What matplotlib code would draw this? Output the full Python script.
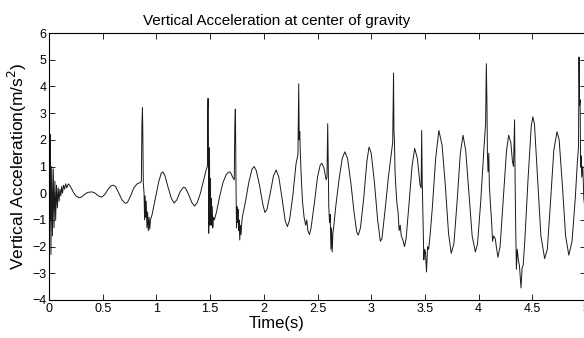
import matplotlib.pyplot as plt

# time (s) and vertical acceleration (m/s^2)
t = [0.000, 0.003, 0.008, 0.012, 0.018, 0.025, 0.032, 0.040, 0.047, 0.055,
     0.062, 0.070, 0.078, 0.086, 0.094, 0.102, 0.110, 0.118, 0.126, 0.135,
     0.145, 0.155, 0.165, 0.180, 0.200, 0.225, 0.250, 0.280, 0.300, 0.330,
     0.360, 0.400, 0.430, 0.460, 0.490, 0.520, 0.550, 0.580, 0.600, 0.620,
     0.650, 0.680, 0.710, 0.730, 0.760, 0.790, 0.820, 0.850, 0.860, 0.865,
     0.870, 0.873, 0.878, 0.885, 0.890, 0.895, 0.900, 0.905, 0.912, 0.918,
     0.925, 0.932, 0.938, 0.945, 0.960, 0.990, 1.020, 1.045, 1.060, 1.080,
     1.110, 1.140, 1.165, 1.190, 1.220, 1.250, 1.270, 1.300, 1.330, 1.355,
     1.380, 1.410, 1.440, 1.465, 1.475, 1.478, 1.481, 1.484, 1.487, 1.490,
     1.494, 1.497, 1.500, 1.503, 1.507, 1.511, 1.515, 1.520, 1.525, 1.530,
     1.540, 1.560, 1.590, 1.620, 1.650, 1.675, 1.690, 1.710, 1.725, 1.730,
     1.735, 1.738, 1.742, 1.746, 1.750, 1.755, 1.760, 1.765, 1.770, 1.776,
     1.782, 1.788, 1.795, 1.800, 1.830, 1.860, 1.890, 1.910, 1.930, 1.960,
     1.990, 2.010, 2.030, 2.060, 2.090, 2.115, 2.140, 2.170, 2.200, 2.220,
     2.240, 2.270, 2.300, 2.318, 2.325, 2.330, 2.335, 2.340, 2.350, 2.360,
     2.375, 2.390, 2.400, 2.410, 2.425, 2.440, 2.470, 2.500, 2.525, 2.540,
     2.560, 2.580, 2.588, 2.595, 2.600, 2.605, 2.612, 2.618, 2.625, 2.630,
     2.637, 2.643, 2.650, 2.670, 2.700, 2.730, 2.755, 2.780, 2.810, 2.840,
     2.865, 2.880, 2.900, 2.930, 2.960, 2.980, 3.000, 3.030, 3.060, 3.085,
     3.100, 3.130, 3.160, 3.190, 3.200, 3.208, 3.212, 3.216, 3.222, 3.230,
     3.240, 3.250, 3.260, 3.270, 3.280, 3.295, 3.310, 3.325, 3.350, 3.380,
     3.405, 3.430, 3.455, 3.465, 3.470, 3.475, 3.482, 3.490, 3.497, 3.505,
     3.515, 3.525, 3.535, 3.550, 3.570, 3.600, 3.630, 3.660, 3.690, 3.720,
     3.745, 3.770, 3.800, 3.830, 3.855, 3.880, 3.910, 3.940, 3.970, 3.990,
     4.020, 4.050, 4.065, 4.072, 4.078, 4.082, 4.088, 4.095, 4.100, 4.110,
     4.120, 4.130, 4.140, 4.155, 4.165, 4.180, 4.200, 4.230, 4.260, 4.280,
     4.300, 4.315, 4.325, 4.335, 4.340, 4.345, 4.352, 4.360, 4.370, 4.380,
     4.395, 4.405, 4.415, 4.430, 4.460, 4.490, 4.505, 4.520, 4.550, 4.580,
     4.615, 4.640, 4.670, 4.700, 4.730, 4.750, 4.780, 4.810, 4.840, 4.870,
     4.900, 4.920, 4.930, 4.935, 4.940, 4.945, 4.950, 4.955, 4.960, 4.970,
     4.980, 5.000]
acc = [0.0, 2.7, -1.0, 2.2, -2.3, 1.0, -1.6, 0.9, -1.3, 0.45,
       -1.0, 0.3, -0.55, 0.2, -0.3, 0.15, -0.1, 0.25, 0.0, 0.3,
       0.15, 0.35, 0.2, 0.35, 0.25, 0.05, -0.1, -0.17, -0.15, -0.05,
       0.03, 0.05, 0.0, -0.1, -0.15, -0.05, 0.15, 0.28, 0.3, 0.25,
       0.0, -0.25, -0.38, -0.35, -0.1, 0.2, 0.35, 0.4, 0.45, 2.5,
       3.2, 2.5, 0.4, 0.0, -1.0, -0.1, -0.9, -0.3, -1.3, -0.7,
       -1.4, -0.9, -1.35, -1.0, -0.8, -0.2, 0.4, 0.75, 0.8, 0.65,
       0.2, -0.2, -0.37, -0.25, 0.05, 0.22, 0.2, -0.05, -0.35, -0.48,
       -0.35, 0.0, 0.5, 0.9, 1.0, 3.0, 3.55, 2.0, -1.5, 0.5,
       1.7, -0.5, -1.2, 0.55, -1.05, -0.2, -1.2, -0.5, -1.3, -0.9,
       -1.0, -0.7, -0.1, 0.4, 0.7, 0.8, 0.78, 0.6, 0.5, 2.5,
       3.15, 2.0, 0.0, -1.3, -0.5, -1.1, -0.6, -1.4, -1.0, -1.75,
       -1.2, -1.55, -1.1, -0.9, -0.3, 0.4, 0.9, 1.0, 0.85, 0.3,
       -0.4, -0.72, -0.6, 0.0, 0.65, 0.87, 0.6, -0.2, -1.05, -1.25,
       -1.0, -0.1, 1.1, 1.45, 4.1, 2.0, 2.3, 1.5, 0.5, -0.3,
       -0.9, -1.2, -1.0, -1.4, -1.55, -1.3, -0.4, 0.6, 1.05, 1.12,
       0.95, 0.5, 0.6, 2.6, 1.0, -0.5, -1.1, -0.8, -2.1, -1.3,
       -2.2, -1.5, -1.3, -0.5, 0.5, 1.3, 1.55, 1.3, 0.4, -0.7,
       -1.45, -1.57, -1.3, -0.2, 1.2, 1.73, 1.5, 0.4, -1.0, -1.8,
       -1.7, -0.6, 0.6, 1.6, 1.9, 4.5, 2.3, 2.0, 0.8, 0.2,
       -0.4, -0.7, -1.4, -1.2, -1.6, -1.75, -2.0, -1.7, -0.5, 1.0,
       1.68, 1.3, 0.3, 0.2, 2.35, 0.5, -1.0, -2.5, -2.1, -2.2,
       -2.95, -2.0, -2.1, -1.5, -0.5, 1.3, 2.35, 1.8, 0.3, -1.5,
       -2.25, -1.9, -0.3, 1.5, 2.17, 1.6, 0.0, -1.6, -2.2, -1.9,
       -0.3, 1.7, 2.6, 4.85, 3.3, 1.5, 0.8, 1.5, 0.3, -0.4,
       -1.0, -1.8, -1.6, -1.7, -2.0, -2.4, -2.0, -0.2, 1.6, 2.17,
       1.9, 1.2, 1.0, 2.75, 0.5, -1.2, -2.85, -2.1, -2.5, -2.7,
       -3.55, -2.8, -2.7, -1.8, 0.5, 2.5, 2.86, 2.6, 0.5, -1.6,
       -2.45, -2.1, -0.3, 1.6, 2.3, 2.0, 0.3, -1.6, -2.32, -1.8,
       -0.2, 1.2, 1.7, 5.1, 3.3, 3.5, 1.0, 1.4, 0.6, 1.0,
       -0.2, -1.0]

xticks = [0, 0.5, 1, 1.5, 2, 2.5, 3, 3.5, 4, 4.5, 5]
xtick_labels = ['0', '0.5', '1', '1.5', '2', '2.5', '3', '3.5', '4', '4.5', '5']
yticks = [-4, -3, -2, -1, 0, 1, 2, 3, 4, 5, 6]

plt.rcParams['font.family'] = ['Liberation Sans', 'DejaVu Sans']

fig = plt.figure(figsize=(5.84, 3.38), dpi=100)
# axes box runs slightly past the right edge of the image, as in the reference
ax = fig.add_axes([49 / 584, 38 / 338, 537 / 584, 267 / 338])

ax.plot(t, acc, color='#1a1a1a', linewidth=0.7)

ax.set_xlim(0, 5)
ax.set_ylim(-4, 6)
ax.set_xticks(xticks)
ax.set_xticklabels(xtick_labels)
ax.set_yticks(yticks)
ax.tick_params(direction='in', top=True, right=True, length=4, width=0.6,
               labelsize=9, pad=2)
for s in ax.spines.values():
    s.set_linewidth(0.8)

ax.set_title('Vertical Acceleration at center of gravity', fontsize=11,
             x=(277 - 49) / 537, pad=6)
ax.set_xlabel('Time(s)', fontsize=12, labelpad=0)
ax.xaxis.set_label_coords((277 - 49) / 537, -0.06)
ax.set_ylabel('Vertical Acceleration(m/s$^2$)', fontsize=12.5, labelpad=2)

fig.savefig('out.png', dpi=100)
